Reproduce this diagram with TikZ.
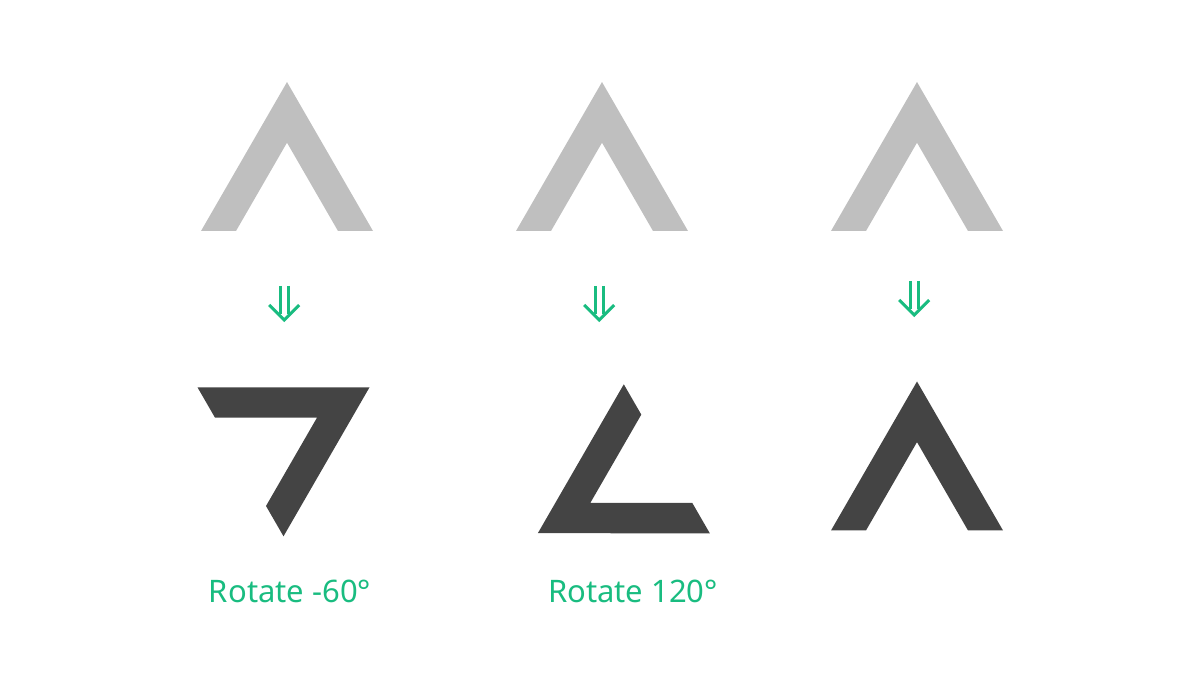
\documentclass[tikz,border=0pt]{standalone}
\usepackage{fontspec}
\setmainfont{Noto Sans}
\definecolor{lightchev}{HTML}{BFBFBF}
\definecolor{darkchev}{HTML}{444444}
\definecolor{accent}{HTML}{19BC80}
\begin{document}
\begin{tikzpicture}[x=1pt,y=1pt,
  chevron/.pic={
    \fill[pic actions] (-86,-49.65) -- (0,99.3) -- (86,-49.65) -- (51,-49.65) -- (0,38.68) -- (-51,-49.65) -- cycle;
  },
  arrowline/.style={draw=accent,line width=3pt,miter limit=10},
  lbl/.style={text=accent,font=\fontsize{31}{35}\selectfont,anchor=base,inner sep=0pt}
]
\useasboundingbox (0,0) rectangle (1200,675);
% top chevrons
\pic[fill=lightchev] at (287,493.65) {chevron};
\pic[fill=lightchev] at (602,493.65) {chevron};
\pic[fill=lightchev] at (917,493.65) {chevron};
% bottom chevrons
\pic[fill=darkchev,rotate=-60] at (283.5,238) {chevron};
\pic[fill=darkchev,rotate=120] at (623.8,191.4) {chevron};
\pic[fill=darkchev] at (917,194.2) {chevron};
% arrows
\foreach \i/\cx/\dy in {1/284.2/0,2/599.2/0,3/914.2/5}{
  \coordinate (t\i) at (\cx,389+\dy);
  \coordinate (b\i) at (\cx,355+\dy);
  \draw[arrowline] ([xshift=-4.2pt]t\i) -- ([xshift=-4.2pt,yshift=6pt]b\i);
  \draw[arrowline] ([xshift=4.2pt]t\i) -- ([xshift=4.2pt,yshift=6pt]b\i);
  \draw[arrowline] ([xshift=-15pt,yshift=15pt]b\i) -- (b\i) -- ([xshift=15pt,yshift=15pt]b\i);
}
% labels
\node[lbl] (l1) at (290,72) {Rotate -60°};
\node[lbl] (l2) at (633,72) {Rotate 120°};
\end{tikzpicture}
\end{document}
